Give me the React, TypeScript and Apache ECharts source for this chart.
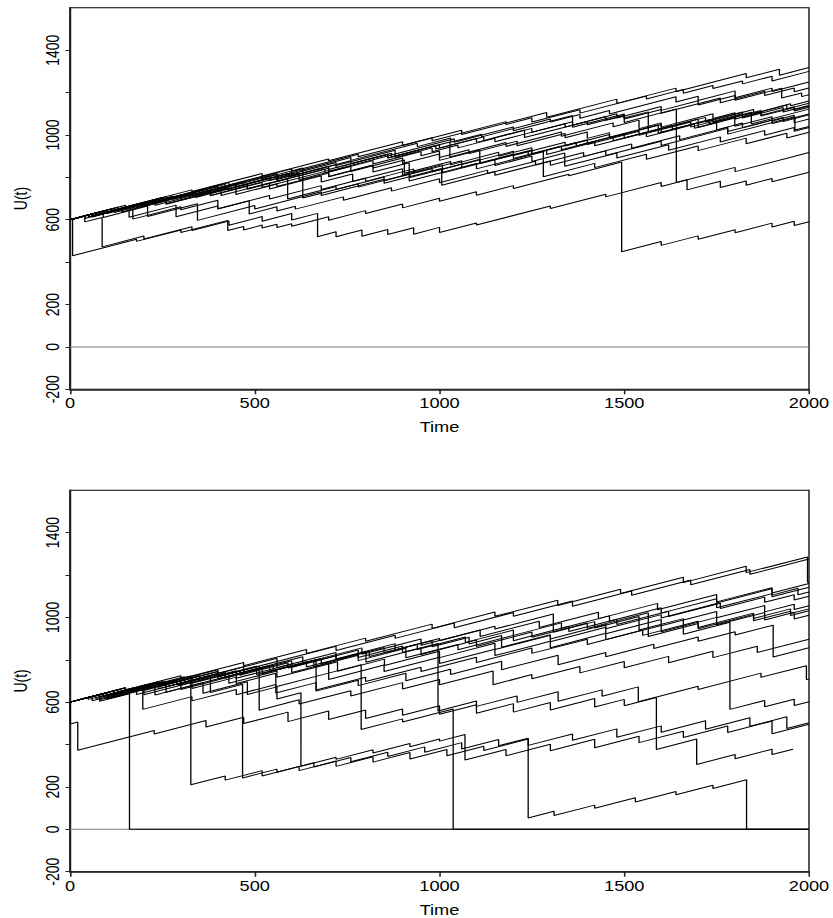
import { useEffect, useRef } from "react";
import * as echarts from "echarts";

// ---- axis ticks and labels ----
const timeTicks = [0, 500, 1000, 1500, 2000];
const uTicks = [-200, 0, 200, 400, 600, 800, 1000, 1200, 1400];
const uLabels = [-200, 0, 200, 600, 1000, 1400];

// ---- upper panel: surplus paths U(t), vertices [t, U] (a claim = two vertices at the same t) ----
const top01 = [[0,600],[150,668],[150,660],[330,741],[330,733],[520,818],[520,806],[700,887],[700,878],[900,968],[900,950],[1060,1022],[1060,1002],[1290,1106],[1290,1084],[1480,1169],[1480,1149],[1640,1221],[1640,1204],[1830,1290],[1830,1270],[1920,1310],[1920,1282],[2000,1318]];
const top02 = [[0,600],[110,650],[110,642],[260,709],[260,699],[430,776],[430,764],[600,840],[600,828],[780,909],[780,897],[980,987],[980,973],[1180,1063],[1180,1049],[1250,1081],[1250,1061],[1380,1119],[1380,1103],[1560,1184],[1560,1170],[1660,1215],[1660,1197],[1740,1233],[1740,1219],[1820,1255],[1820,1241],[1900,1277],[1900,1255],[2000,1300]];
const top03 = [[0,600],[90,641],[90,631],[240,698],[240,686],[420,767],[420,755],[560,818],[560,804],[760,894],[760,880],[940,961],[940,945],[1030,986],[1030,966],[1114,1003],[1114,991],[1300,1075],[1300,1061],[1380,1097],[1380,1079],[1460,1115],[1460,1099],[1640,1180],[1640,1156],[1700,1183],[1700,1163],[1800,1208],[1800,1176],[1900,1221],[1900,1205],[2000,1250]];
const top04 = [[0,600],[60,627],[60,619],[200,682],[200,672],[300,717],[300,705],[380,741],[380,726],[540,798],[540,785],[620,821],[620,807],[700,843],[700,829],[880,910],[880,894],[980,939],[980,921],[1050,953],[1050,939],[1150,984],[1150,968],[1230,1004],[1230,988],[1400,1064],[1400,1048],[1500,1093],[1500,1075],[1600,1120],[1600,1102],[1760,1174],[1760,1152],[1880,1206],[1880,1186],[1960,1222],[1960,1204],[2000,1222]];
const top05 = [[0,600],[100,645],[100,633],[230,692],[230,682],[350,736],[350,722],[470,776],[470,764],[600,822],[600,806],[760,878],[760,864],[870,914],[870,896],[1000,954],[1000,938],[1120,992],[1120,972],[1250,1031],[1250,1013],[1360,1062],[1360,1046],[1480,1100],[1480,1080],[1600,1134],[1600,1116],[1700,1161],[1700,1141],[1800,1186],[1800,1164],[1926,1221],[1926,1174],[1980,1198],[1980,1181],[2000,1190]];
const top06 = [[0,600],[70,632],[70,622],[190,676],[190,664],[320,722],[320,710],[450,769],[450,755],[590,818],[590,802],[720,860],[720,846],[860,909],[860,891],[990,950],[990,934],[1100,983],[1100,965],[1230,1024],[1230,1004],[1340,1053],[1340,1037],[1450,1087],[1450,1069],[1500,1091],[1500,1080],[1565,1109],[1565,1014],[1700,1075],[1700,1055],[1820,1109],[1820,1087],[1940,1141],[1940,1123],[2000,1150]];
const top07 = [[0,600],[50,623],[50,613],[160,662],[160,612],[287,669],[287,614],[400,665],[400,651],[540,714],[540,698],[680,761],[680,743],[800,797],[800,781],[930,840],[930,820],[1060,878],[1060,860],[1200,923],[1200,903],[1340,966],[1340,948],[1460,1002],[1460,986],[1600,1049],[1600,1029],[1720,1083],[1720,1061],[1850,1120],[1850,1102],[1950,1147],[1950,1138],[2000,1160]];
const top08 = [[0,600],[120,654],[120,646],[250,705],[250,695],[400,762],[400,750],[520,804],[520,794],[630,844],[630,703],[780,770],[780,754],[920,817],[920,799],[1060,862],[1060,846],[1200,909],[1200,889],[1330,948],[1330,930],[1470,993],[1470,973],[1600,1031],[1600,1013],[1730,1072],[1730,1052],[1870,1115],[1870,1093],[1960,1133],[1960,1119],[2000,1137]];
const top09 = [[0,600],[40,618],[40,606],[140,651],[140,637],[260,691],[260,675],[380,729],[380,715],[480,760],[480,744],[589,793],[589,698],[720,757],[720,743],[850,802],[850,784],[980,842],[980,826],[1110,885],[1110,865],[1240,923],[1240,905],[1370,964],[1370,948],[1500,1006],[1500,986],[1630,1045],[1630,1027],[1740,1076],[1740,1060],[1844,1107],[1844,1052],[2000,1122]];
const top10 = [[0,600],[80,636],[80,626],[200,680],[200,668],[340,731],[340,717],[449,766],[449,719],[560,769],[560,757],[700,820],[700,804],[820,858],[820,844],[905,882],[905,819],[1030,875],[1030,859],[1160,918],[1160,900],[1250,940],[1250,910],[1290,928],[1290,908],[1420,967],[1420,949],[1560,1012],[1560,992],[1690,1050],[1690,1032],[1750,1059],[1750,1024],[1820,1056],[1820,1034],[1930,1083],[1930,1063],[2000,1095]];
const top11 = [[0,600],[60,627],[60,613],[170,663],[170,603],[300,661],[300,647],[400,692],[400,652],[485,690],[485,627],[560,661],[560,641],[610,664],[610,650],[740,708],[740,692],[870,751],[870,735],[1000,793],[1000,775],[1130,834],[1130,818],[1260,876],[1260,858],[1390,917],[1390,899],[1520,957],[1520,937],[1650,996],[1650,978],[1780,1036],[1780,1016],[1900,1070],[1900,1054],[2000,1099]];
const top12 = [[0,600],[90,641],[90,611],[210,665],[210,615],[345,675],[345,597],[500,667],[500,651],[680,732],[680,714],[850,791],[850,772],[1006,842],[1006,763],[1150,828],[1150,810],[1300,877],[1300,857],[1450,925],[1450,903],[1600,970],[1600,950],[1780,1031],[1780,1004],[1962,1086],[1962,1023],[2000,1040]];
const top13 = [[0,600],[100,645],[100,629],[230,688],[230,668],[380,735],[380,713],[520,776],[520,752],[700,833],[700,803],[820,857],[820,825],[918,869],[918,783],[1100,865],[1100,840],[1281,921],[1281,803],[1420,866],[1420,846],[1560,909],[1560,885],[1700,948],[1700,926],[1830,985],[1830,959],[1940,1008],[1940,986],[2000,1013]];
const top14 = [[0,600],[70,632],[70,620],[180,669],[180,655],[300,709],[300,693],[430,752],[430,738],[560,796],[560,780],[690,839],[690,821],[820,879],[820,863],[950,922],[950,902],[1000,924],[1000,894],[1080,930],[1080,912],[1210,971],[1210,949],[1340,1007],[1340,987],[1400,1014],[1400,984],[1460,1011],[1460,989],[1592,1048],[1592,1008],[1700,1057],[1700,1035],[1799,1080],[1799,1041],[1900,1086],[1900,1066],[1960,1093],[1960,1057],[2000,1075]];
const top15 = [[0,600],[100,645],[100,635],[250,703],[250,689],[400,756],[400,742],[560,814],[560,798],[720,870],[720,856],[880,928],[880,910],[1040,982],[1040,966],[1200,1038],[1200,1020],[1360,1092],[1360,1036],[1500,1099],[1500,1059],[1641,1123],[1641,776],[1670,789],[1670,741],[1760,782],[1760,752],[1830,783],[1830,763],[1900,795],[1900,779],[2000,824]];
const top16 = [[0,600],[130,659],[130,645],[280,712],[280,696],[420,759],[420,741],[560,804],[560,790],[700,853],[700,837],[860,909],[860,891],[1028,967],[1028,896],[1180,964],[1180,946],[1330,1014],[1330,994],[1470,1057],[1470,1039],[1540,1070],[1540,1030],[1600,1057],[1600,1037],[1740,1100],[1740,1078],[1800,1105],[1800,1075],[1870,1107],[1870,1089],[1960,1129],[1960,1113],[2000,1131]];
const top17 = [[0,600],[7,603],[7,430],[180,508],[180,498],[300,552],[300,540],[427,597],[427,549],[470,568],[470,552],[520,575],[520,561],[560,579],[560,563],[600,581],[600,569],[700,614],[700,598],[800,643],[800,629],[900,674],[900,656],[1000,701],[1000,687],[1100,732],[1100,716],[1200,761],[1200,747],[1350,815],[1350,808],[1493,872],[1493,449],[1600,497],[1600,479],[1700,524],[1700,508],[1800,553],[1800,539],[1900,584],[1900,566],[1960,593],[1960,573],[2000,591]];
const top18 = [[0,600],[40,618],[40,590],[87,611],[87,472],[200,523],[200,509],[330,567],[330,549],[430,594],[430,574],[520,615],[520,593],[600,629],[600,599],[670,630],[670,520],[720,543],[720,520],[790,552],[790,522],[860,554],[860,530],[930,562],[930,532],[1000,564],[1000,540],[1100,585],[1100,575],[1300,665],[1300,653],[1450,720],[1450,708],[1600,776],[1600,757],[1800,847],[1800,827],[2000,917]];
const top19 = [[0,600],[60,627],[60,615],[200,678],[200,662],[340,725],[340,705],[480,768],[480,746],[620,809],[620,789],[760,852],[760,828],[900,891],[900,865],[1000,910],[1000,880],[1109,929],[1109,866],[1250,929],[1250,910],[1400,977],[1400,955],[1540,1018],[1540,998],[1680,1061],[1680,1037],[1820,1100],[1820,1080],[1930,1130],[1930,1108],[2000,1139]];
const top20 = [[0,600],[120,654],[120,634],[260,697],[260,673],[409,740],[409,714],[540,773],[540,745],[680,808],[680,778],[765,816],[765,780],[900,841],[900,811],[1008,860],[1008,820],[1150,884],[1150,856],[1250,901],[1250,875],[1339,915],[1339,852],[1480,915],[1480,891],[1620,954],[1620,928],[1760,991],[1760,967],[1880,1021],[1880,999],[1960,1035],[1960,1017],[2000,1035]];

// ---- lower panel: surplus paths U(t); ruined paths stay at 0 ----
const bot01 = [[0,600],[80,636],[80,604],[161,640],[161,0],[2000,0]];
const bot02 = [[0,600],[1,600],[1,497],[21,506],[21,373],[228,466],[228,450],[368,513],[368,483],[470,529],[470,499],[590,553],[590,508],[700,558],[700,518],[800,563],[800,523],[900,568],[900,538],[1000,583],[1000,543],[1100,588],[1100,548],[1200,593],[1200,553],[1300,598],[1300,563],[1420,617],[1420,577],[1500,613],[1500,583],[1587,622],[1587,377],[1696,426],[1696,306],[1800,353],[1800,333],[1900,378],[1900,353],[1957,378]];
const bot03 = [[0,600],[150,668],[150,644],[327,723],[327,210],[420,252],[420,232],[520,277],[520,252],[620,297],[620,277],[720,322],[720,297],[820,342],[820,317],[920,362],[920,332],[1020,377],[1020,347],[1120,392],[1120,372],[1240,426],[1240,396],[1360,450],[1360,420],[1480,474],[1480,434],[1600,488],[1600,458],[1720,512],[1720,472],[1840,526],[1840,486],[1940,531],[1940,476],[2000,503]];
const bot04 = [[0,600],[120,654],[120,624],[260,687],[260,647],[380,701],[380,645],[467,684],[467,242],[560,284],[560,269],[660,314],[660,294],[760,339],[760,319],[860,364],[860,344],[960,389],[960,364],[1060,409],[1060,379],[1160,424],[1160,394],[1240,430],[1240,53],[1310,85],[1310,65],[1420,114],[1420,99],[1530,149],[1530,129],[1640,178],[1640,163],[1740,208],[1740,193],[1831,234],[1831,0],[2000,0]];
const bot05 = [[0,600],[100,645],[100,615],[230,674],[230,634],[360,692],[360,642],[480,696],[480,636],[560,672],[560,615],[625,644],[625,297],[720,340],[720,330],[820,375],[820,360],[920,405],[920,390],[1000,426],[1000,416],[1069,447],[1069,327],[1180,377],[1180,347],[1300,401],[1300,371],[1420,425],[1420,385],[1540,439],[1540,409],[1660,463],[1660,433],[1780,487],[1780,457],[1900,511],[1900,451],[2000,496]];
const bot06 = [[0,600],[150,668],[150,643],[300,710],[300,680],[450,748],[450,713],[600,780],[600,740],[700,785],[700,737],[788,777],[788,471],[900,521],[900,506],[1037,568],[1037,0],[2000,0]];
const bot07 = [[0,600],[120,654],[120,634],[260,697],[260,672],[420,744],[420,714],[600,795],[600,765],[780,846],[780,811],[900,865],[900,834],[996,877],[996,558],[1100,605],[1100,580],[1210,629],[1210,599],[1321,649],[1321,604],[1440,658],[1440,628],[1538,672],[1538,602],[1700,675],[1700,660],[1870,737],[1870,717],[1993,772],[1993,706],[2000,709]];
const bot08 = [[0,600],[100,645],[100,630],[250,698],[250,678],[400,745],[400,720],[512,770],[512,562],[620,611],[620,591],[760,654],[760,629],[900,692],[900,662],[1000,707],[1000,682],[1145,747],[1145,682],[1250,730],[1250,710],[1380,768],[1380,738],[1500,792],[1500,762],[1620,816],[1620,786],[1740,840],[1740,810],[1860,864],[1860,834],[2000,897]];
const bot09 = [[0,600],[90,641],[90,626],[240,693],[240,673],[400,745],[400,720],[560,792],[560,762],[720,834],[720,804],[880,876],[880,846],[1000,900],[1000,890],[1150,958],[1150,945],[1308,1016],[1308,930],[1420,980],[1420,950],[1540,1004],[1540,940],[1660,994],[1660,920],[1786,977],[1786,566],[1880,608],[1880,578],[1960,614],[1960,584],[2000,602]];
const bot10 = [[0,600],[80,636],[80,624],[210,683],[210,663],[350,726],[350,701],[505,770],[505,730],[640,791],[640,766],[801,838],[801,788],[950,855],[950,825],[1100,893],[1100,863],[1250,931],[1250,906],[1400,973],[1400,948],[1565,1022],[1565,910],[1700,971],[1700,946],[1850,1014],[1850,984],[1950,1029],[1950,1009],[2000,1031]];
const bot11 = [[0,600],[100,645],[100,617],[197,661],[197,566],[330,626],[330,606],[450,660],[450,635],[557,683],[557,643],[666,692],[666,652],[780,703],[780,678],[909,736],[909,701],[1030,755],[1030,730],[1168,793],[1168,753],[1321,821],[1321,776],[1450,834],[1450,814],[1580,873],[1580,853],[1700,907],[1700,887],[1800,932],[1800,917],[1903,963],[1903,813],[2000,857]];
const bot12 = [[0,600],[130,659],[130,649],[300,725],[300,710],[470,787],[470,772],[640,848],[640,830],[800,902],[800,887],[980,968],[980,948],[1150,1025],[1150,1005],[1320,1081],[1320,1056],[1490,1133],[1490,1113],[1660,1189],[1660,1164],[1830,1241],[1830,1211],[1996,1285],[1996,1165],[2000,1167]];
const bot13 = [[0,600],[90,641],[90,629],[240,696],[240,681],[400,753],[400,735],[560,807],[560,792],[720,864],[720,844],[880,916],[880,901],[1040,973],[1040,951],[1200,1023],[1200,1005],[1360,1077],[1360,1052],[1520,1124],[1520,1104],[1680,1176],[1680,1154],[1840,1226],[1840,1203],[2000,1275]];
const bot14 = [[0,600],[70,632],[70,617],[200,675],[200,655],[330,714],[330,689],[460,747],[460,727],[590,786],[590,761],[720,819],[720,799],[850,858],[850,833],[980,891],[980,861],[1080,906],[1080,874],[1168,914],[1168,859],[1300,918],[1300,898],[1450,966],[1450,946],[1600,1013],[1600,997],[1750,1065],[1750,1045],[1900,1112],[1900,1097],[2000,1142]];
const bot15 = [[0,600],[100,645],[100,625],[240,688],[240,663],[380,726],[380,701],[520,764],[520,734],[660,797],[660,767],[780,821],[780,796],[909,854],[909,809],[1050,872],[1050,847],[1200,915],[1200,890],[1350,958],[1350,933],[1480,991],[1480,966],[1620,1029],[1620,1004],[1760,1067],[1760,1042],[1880,1096],[1880,1071],[1960,1107],[1960,1082],[2000,1100]];
const bot16 = [[0,600],[60,627],[60,607],[180,661],[180,636],[300,690],[300,660],[430,719],[430,689],[560,747],[560,717],[724,791],[724,746],[851,803],[851,773],[1000,840],[1000,810],[1150,878],[1150,848],[1300,915],[1300,885],[1450,953],[1450,923],[1600,990],[1600,960],[1750,1028],[1750,998],[1880,1056],[1880,1026],[1960,1062],[1960,1037],[2000,1055]];
const bot17 = [[0,600],[120,654],[120,634],[260,697],[260,672],[400,735],[400,710],[540,773],[540,743],[666,800],[666,657],[800,717],[800,697],[950,765],[950,745],[1100,812],[1100,787],[1250,855],[1250,830],[1400,897],[1400,872],[1550,940],[1550,915],[1700,982],[1700,952],[1850,1020],[1850,995],[1950,1040],[1950,1018],[2000,1040]];
const bot18 = [[0,600],[80,636],[80,611],[200,665],[200,635],[330,694],[330,664],[450,718],[450,688],[557,736],[557,673],[700,737],[700,707],[850,775],[850,745],[1000,812],[1000,782],[1150,850],[1150,820],[1300,887],[1300,857],[1450,925],[1450,895],[1600,962],[1600,932],[1750,1000],[1750,965],[1880,1023],[1880,988],[1960,1024],[1960,992],[2000,1010]];
const bot19 = [[0,600],[150,668],[150,648],[310,720],[310,695],[470,767],[470,742],[630,814],[630,784],[790,856],[790,826],[950,898],[950,868],[1110,940],[1110,910],[1270,982],[1270,952],[1430,1024],[1430,994],[1590,1066],[1590,1036],[1750,1108],[1750,1073],[1900,1140],[1900,1105],[1970,1137],[1970,1107],[2000,1120]];
const bot20 = [[0,600],[50,623],[50,613],[170,667],[170,647],[290,701],[290,681],[420,739],[420,714],[550,773],[550,748],[680,806],[680,781],[810,840],[810,815],[940,873],[940,848],[1070,907],[1070,882],[1200,940],[1200,915],[1330,974],[1330,949],[1460,1007],[1460,982],[1600,1045],[1600,1020],[1750,1088],[1750,1068],[1900,1135],[1900,1115],[2000,1160]];

const upperPaths = [top01, top02, top03, top04, top05, top06, top07, top08, top09, top10, top11, top12, top13, top14, top15, top16, top17, top18, top19, top20];
const lowerPaths = [bot01, bot02, bot03, bot04, bot05, bot06, bot07, bot08, bot09, bot10, bot11, bot12, bot13, bot14, bot15, bot16, bot17, bot18, bot19, bot20];
const zeroLevel = [[0, 0], [2000, 0]];

// The figure is drawn narrow and widened horizontally, which gives its wide lettering.
const PAGE_W = 833;
const PAGE_H = 918;
const STRETCH = 1.3;
const INNER_W = PAGE_W / STRETCH;
const FONT = "'Liberation Sans', Arial, sans-serif";

const plotLeft = 70 / STRETCH;
const plotWidth = (809 - 70) / STRETCH;

function xAxisFor(gridIndex: number) {
  return {
    type: "value" as const,
    gridIndex,
    min: 0,
    max: 2000,
    interval: 500,
    name: "Time",
    nameLocation: "middle" as const,
    nameGap: 31,
    nameTextStyle: { fontFamily: FONT, fontSize: 14, color: "#000" },
    splitLine: { show: false },
    axisLine: { show: true, onZero: false, lineStyle: { color: "#222", width: 1.6 } },
    axisTick: { show: true, length: 5, customValues: timeTicks, lineStyle: { color: "#222", width: 1.2 } },
    axisLabel: {
      margin: 7,
      fontFamily: FONT,
      fontSize: 14,
      color: "#000",
      customValues: timeTicks,
      formatter: (v: number) => String(v),
    },
  };
}

function yAxisFor(gridIndex: number) {
  return {
    type: "value" as const,
    gridIndex,
    min: -200,
    max: 1600,
    interval: 200,
    name: "U(t)",
    nameLocation: "middle" as const,
    nameRotate: 90,
    nameGap: 31,
    nameTextStyle: { fontFamily: FONT, fontSize: 14, color: "#000" },
    splitLine: { show: false },
    axisLine: { show: true, onZero: false, lineStyle: { color: "#222", width: 1.6 } },
    axisTick: { show: true, length: 3.5, customValues: uTicks, lineStyle: { color: "#222", width: 1 } },
    axisLabel: {
      margin: 7,
      rotate: 90,
      fontFamily: FONT,
      fontSize: 14,
      color: "#000",
      customValues: uLabels,
      formatter: (v: number) => (uLabels.includes(v) ? String(v) : ""),
    },
  };
}

function pathSeries(paths: number[][][], axisIndex: number) {
  return paths.map((data) => ({
    type: "line" as const,
    xAxisIndex: axisIndex,
    yAxisIndex: axisIndex,
    data,
    showSymbol: false,
    symbol: "none",
    silent: true,
    z: 3,
    lineStyle: { color: "#000", width: 1 },
  }));
}

export default function App() {
  const ref = useRef<HTMLDivElement>(null);

  useEffect(() => {
    if (!ref.current) return;
    const chart = echarts.init(ref.current, undefined, { renderer: "svg" });
    chart.setOption({
      animation: false,
      backgroundColor: "#fff",
      grid: [
        { left: plotLeft, width: plotWidth, top: 7.8, height: 381.5, show: true, borderColor: "#000", borderWidth: 1, containLabel: false },
        { left: plotLeft, width: plotWidth, top: 490.2, height: 381.5, show: true, borderColor: "#000", borderWidth: 1, containLabel: false },
      ],
      xAxis: [xAxisFor(0), xAxisFor(1)],
      yAxis: [yAxisFor(0), yAxisFor(1)],
      series: [
        { type: "line", xAxisIndex: 0, yAxisIndex: 0, data: zeroLevel, showSymbol: false, symbol: "none", silent: true, z: 2, lineStyle: { color: "#7a7a7a", width: 1 } },
        { type: "line", xAxisIndex: 1, yAxisIndex: 1, data: zeroLevel, showSymbol: false, symbol: "none", silent: true, z: 2, lineStyle: { color: "#7a7a7a", width: 1 } },
        ...pathSeries(upperPaths, 0),
        ...pathSeries(lowerPaths, 1),
      ],
    });
    return () => chart.dispose();
  }, []);

  return (
    <div style={{ position: "absolute", left: 0, top: 0, width: PAGE_W, height: PAGE_H, overflow: "hidden", background: "#fff" }}>
      <div
        ref={ref}
        style={{ width: INNER_W, height: PAGE_H, transform: `scaleX(${STRETCH})`, transformOrigin: "0 0" }}
      />
    </div>
  );
}
